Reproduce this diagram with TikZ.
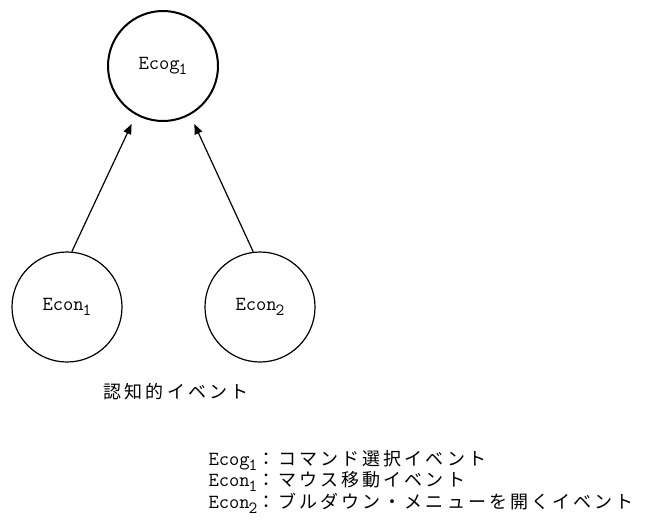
\documentclass[tikz,border=0pt]{standalone}
\usepackage{fontspec}
\newfontfamily\jp[LetterSpace=17]{Noto Sans CJK JP}
\usetikzlibrary{arrows.meta}
\newcommand{\lat}[2]{{\ttfamily\fontsize{20}{20}\selectfont #1\kern-1pt\raisebox{-5pt}{\fontsize{17}{17}\selectfont #2}}}
\begin{document}
\begin{tikzpicture}[x=1pt,y=-1pt]
\tikzset{
  ev/.style={circle,draw,minimum size=110pt,inner sep=0pt,line width=1.2pt},
  topev/.style={ev,line width=2pt},
  arr/.style={-{Triangle[length=10pt,width=8pt]},line width=1.2pt,shorten >=10pt},
  jptext/.style={font=\jp\fontsize{18}{18}\selectfont}
}
\useasboundingbox (0,0) rectangle (661,528);
\node[topev] (g) at (163,66) {\lat{Ecog}{1}};
\node[ev] (c1) at (67,307) {\lat{Econ}{1}};
\node[ev] (c2) at (260,307) {\lat{Econ}{2}};
\draw[arr] (c1.85) -- (g.-119);
\draw[arr] (c2.97) -- (g.-61);
\node[jptext] (lbl) at (176,392) {認知的イベント};
\node[jptext,anchor=west,align=left] (leg) at (205,482) {\lat{Ecog}{1}：コマンド選択イベント\\
\lat{Econ}{1}：マウス移動イベント\\
\lat{Econ}{2}：ブルダウン・メニューを開くイベント};
\end{tikzpicture}
\end{document}
